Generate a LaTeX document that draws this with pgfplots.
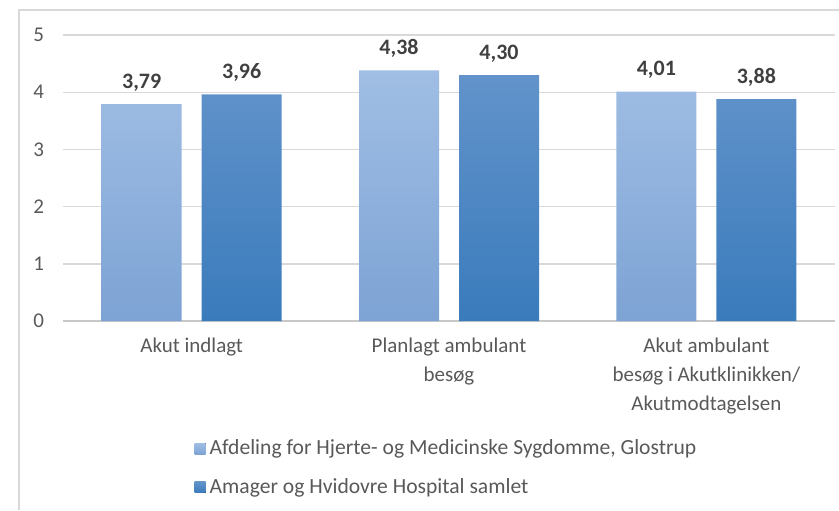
\documentclass[border=0pt]{standalone}
\usepackage{fontspec}
\setmainfont{Carlito}
\usepackage{pgfplots}
\pgfplotsset{compat=1.18}

\definecolor{ltop}{RGB}{160,190,228}
\definecolor{lbot}{RGB}{125,163,212}
\definecolor{dtop}{RGB}{98,147,202}
\definecolor{dbot}{RGB}{58,123,188}
\definecolor{gridc}{RGB}{217,217,217}
\definecolor{axc}{RGB}{200,200,200}
\definecolor{txt}{RGB}{89,89,89}
\definecolor{val}{RGB}{64,64,64}

\begin{document}
\begin{tikzpicture}
% 1 px of the reference = 0.5pt
\useasboundingbox (0,0) rectangle (419.5pt,255pt);
\draw[gridc, line width=0.8pt] (9.5pt,0) -- (9.5pt,250pt) -- (419.5pt,250pt);
\begin{axis}[
    at={(31.5pt,94.5pt)}, anchor=south west,
    scale only axis,
    width=386pt, height=143pt,
    xmin=-0.5, xmax=2.5,
    ymin=0, ymax=5,
    ybar=10pt, bar width=40pt,
    xtick=data,
    xticklabels={Akut indlagt, {Planlagt ambulant\\besøg}, {Akut ambulant\\besøg i Akutklinikken/\\Akutmodtagelsen}},
    ytick={0,1,2,3,4,5},
    major tick length=0pt,
    axis x line*=bottom, axis y line*=left,
    separate axis lines,
    x axis line style={draw=axc, line width=0.8pt, -},
    y axis line style={draw=none},
    ymajorgrids,
    grid style={gridc, line width=0.7pt},
    /pgf/number format/assume math mode=true,
    yticklabel style={font=\fontsize{10.5}{12}\selectfont, text=txt, xshift=-6pt},
    xticklabel style={font=\fontsize{10.5}{14.5}\selectfont, text=txt, align=center, yshift=-5pt},
    nodes near coords,
    every node near coord/.append style={font=\fontsize{11}{12}\selectfont\bfseries, text=val, yshift=3pt,
        /pgf/number format/.cd, fixed, fixed zerofill, precision=2, use comma},
    legend style={at={(0.17,-0.40)}, anchor=north west, draw=none, fill=none,
        font=\fontsize{10.8}{12}\selectfont, text=txt, row sep=6.3pt, inner sep=0pt},
    legend cell align=left,
    legend image code/.code={\fill[#1] (0pt,-2.75pt) rectangle (5.5pt,2.75pt);},
]
\addplot[draw=none, top color=ltop, bottom color=lbot] coordinates {(0,3.79) (1,4.38) (2,4.01)};
\addplot[draw=none, top color=dtop, bottom color=dbot] coordinates {(0,3.96) (1,4.30) (2,3.88)};
\legend{{Afdeling for Hjerte- og Medicinske Sygdomme, Glostrup}, {Amager og Hvidovre Hospital samlet}}
\end{axis}
\end{tikzpicture}
\end{document}
